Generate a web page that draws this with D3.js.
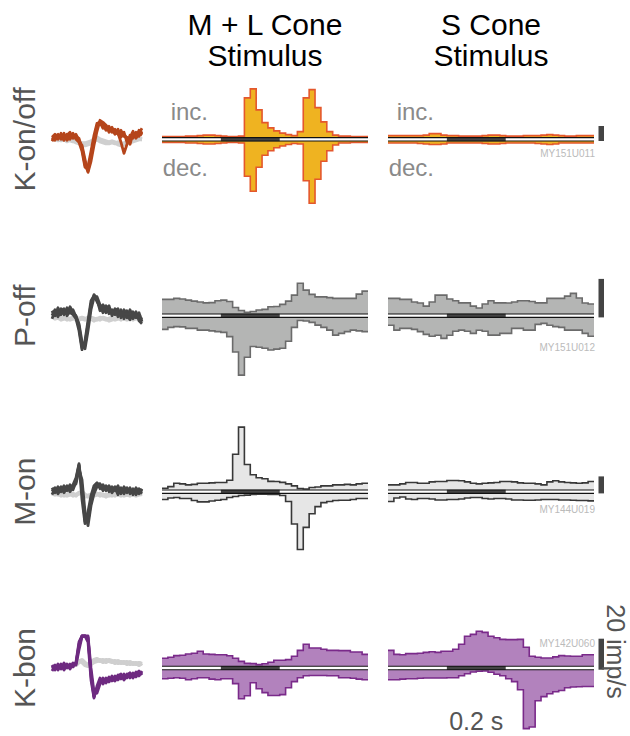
<!DOCTYPE html>
<html>
<head>
<meta charset="utf-8">
<script src="https://cdn.jsdelivr.net/npm/d3@7"></script>
<style>
  body { margin: 0; background: #fff; }
  text { font-family: "Liberation Sans", Arial, sans-serif; }
</style>
</head>
<body>
<div id="viz"></div>
<script>
// cell classes, recorded units, stimulus conditions
var cells = ["K-on/off", "P-off", "M-on", "K-bon"];
var units = ["MY151U011", "MY151U012", "MY144U019", "MY142U060"];
var stimuli = ["M + L Cone", "S Cone"];

// PSTH bins: 20 ms from -0.2 s to 0.5 s, stimulus on 0 - 0.2 s
var binStart = -0.2, binWidth = 0.02;
var stimOn = 0, stimOff = 0.2;

// firing rates (imp/s) for increments (inc.) and decrements (dec.)
var konoffMLInc = [1.3,1.3,1.3,1.3,2,2,2.7,3.3,3.3,2.7,2,1.3,1.3,2,53,65,37,20,13,9,6,4,2.7,8,53,64,40,21,8,3.3,2,2,1.3,1.3,1.3];
var konoffMLDec = [2,2,2,2,2.7,2.7,3.3,4,4,3.3,2.7,2,2,2.7,47,67,35,19,13,9,6.7,4.7,3.3,4,53,83,51,27,13,5.3,2.7,2.7,2,2,2];
var konoffSInc = [2.7,2.7,2.7,2.7,2.7,2.7,3.3,5.3,5.3,3.3,2.7,2.7,2,2,2,2,2.7,3.3,3.3,2.7,2,2,2,2.7,2.7,2.7,3.3,4,3.3,2.7,2,2,2.7,2.7,2.7];
var konoffSDec = [2.7,2.7,2.7,2.7,2.7,3.3,4,4.7,4.7,4,2.7,2.7,2.7,2.7,2.7,2.7,3.3,4,4,3.3,2.7,2.7,2.7,2.7,2.7,3.3,4,4.7,4,2.7,2.7,2.7,2.7,2.7,2.7];

var poffMLInc = [7.6,7.6,8.1,7.8,7.2,6.7,6.2,5.8,5.9,6.9,7.2,6.5,3.4,1.8,0.9,1.3,2.1,2.4,3.8,3.9,5,6.7,9.8,16,12.4,10.2,8.9,8.9,8.5,8.1,8.1,8.1,8.1,10.3,11.9];
var poffMLDec = [6.2,5.2,4.8,4.9,5.7,5.7,6.6,6.6,7,7.4,7.8,10,18,30,20.7,15.1,15.5,16,16.9,16.5,16,12.4,5.2,1.6,1.9,2.6,4,5.2,6.6,9.2,8.3,7.4,6.6,7,7.4];
var poffSInc = [8.1,8.1,7.6,7.6,6.2,5.7,4.1,6.2,9.8,9.8,7.8,6.9,5.8,5.8,4.1,3.1,5.2,6.9,5.8,5.8,5.7,6.2,6.9,6.9,6.5,5.8,5.8,8.1,8.1,8.1,9.3,10.7,8.3,5.7,5.2];
var poffSDec = [4.1,6.6,5.7,5.7,6.2,7.4,8.8,9.8,9.3,10.9,9.3,7.2,6.6,7.2,8.3,6.7,7.2,9.2,9.2,8.3,8.3,5.7,5.7,6.6,6.6,3.6,3.1,4.1,4.8,5.2,6.6,6.6,6.6,8.3,9.8];

var monMLInc = [2,4,8,7.2,6,6.6,8,8,8.4,8.8,8.8,11.4,42,74,30,18,14.4,13.2,10.2,10,9,7.2,4.8,1.8,1.2,3,3.6,4.8,4.8,6,6,6.6,6,7.2,8];
var monMLDec = [7.2,5.4,4.8,6,6,8.4,10,10,9,8,7.2,4.8,3.6,2.4,2,1.2,0.8,0.8,1.2,1.2,2.4,9.6,36,66,40,24,15.6,10.8,9.6,8.4,8,8,7.2,6,6];
var monSInc = [6,6,7.2,8.8,8.8,8,8,9.6,10,10,11.2,11.2,10.8,9.6,8,7.2,8,8.4,8.8,10,10,9.6,8.4,8,8,7.2,6,9.6,10.8,9.6,8.8,8.4,8,8.4,10];
var monSDec = [9.6,5.4,4.2,6.6,7.2,6,6,6.6,7.8,7.8,7.2,7.2,6.6,5.4,4.8,4.8,6,6.6,6,6,6.6,7.8,7.8,8,8,7.8,7.2,7.2,7.2,7.8,7.8,8,8.4,8.4,8.8];

var kbonMLInc = [5.2,5.8,6.9,7.1,7.9,8.4,9.7,7.9,7.7,7.5,7.5,6.8,5.2,3.2,1.9,1.7,1.1,1.6,2.6,3.9,3.9,4.3,6.5,10.3,14.2,11.8,11.8,11,10.3,10.3,10.1,10.1,9.2,9.2,7.7];
var kbonMLDec = [5.8,5.5,5.2,5.5,6.5,5.8,5.2,5.2,6.1,6.5,5.8,5.8,9,18.7,16.8,8.4,12.3,14.8,16.6,16.6,16.1,11.6,7.7,5.2,3.9,3.7,3.7,3.7,3.9,3.9,5.2,5.2,5.5,6.1,6.5];
var kbonSInc = [10.3,7.7,7.5,8.2,8.2,8.4,9,9.4,9,9.7,9.7,11,14.2,19.4,20.6,22.6,21.9,19.4,18.4,17.4,17.2,17.2,17.4,12.3,6.5,5.8,5.4,5.4,6.1,6.9,6.6,6.5,6.5,7.5,7.5];
var kbonSDec = [6.5,6.5,6.1,5.8,5.8,5.5,5.4,5.4,5.4,5.4,5.2,5.2,3.9,2.6,1.5,1,0.8,1.6,2.9,3.9,5.8,7.7,12.9,38,37,20,17.4,15.5,14.2,13.4,11.6,11.2,11,10.8,10.8];

// spike waveforms, 31 samples over 1.5 ms (arbitrary amplitude units)
var konoffSpikes = [
  [2,5,0,6,1,4,7,1,5,-1,-8,-24,-30,-18,-2,12,18,15,9,13,7,10,5,9,3,2,-5,6,2,9,5],
  [-2,3,5,0,6,-1,3,6,0,-3,-12,-28,-27,-12,4,16,17,11,14,7,11,5,10,2,7,-3,2,8,1,6,11],
  [1,-1,4,3,-1,5,0,5,2,-2,-6,-20,-33,-22,-6,8,19,17,14,9,12,6,6,-3,-14,-5,4,1,7,3,8],
  [0,3,2,4,3,1,4,3,3,1,-9,-26,-32,-16,0,14,16,13,11,11,9,8,7,6,5,1,-1,4,4,6,4]
];
var konoffGray = [
  [0,1,-1,0,1,-2,0,-1,-3,-4,-5,-6,-5,-4,-2,0,-2,-3,-4,-4,-3,-4,-3,-4,-5,-4,-3,-2,-1,0,0],
  [1,0,1,-1,0,0,-1,-2,-2,-3,-4,-4,-3,-2,0,2,0,-1,-2,-3,-2,-3,-5,-6,-4,-2,-2,-1,0,1,0]
];
var poffSpikes = [
  [0,6,2,7,1,8,3,1,-3,-15,-34,-25,-5,15,20,14,8,11,3,8,1,7,-1,6,-3,5,0,-3,4,-5,-8],
  [5,0,8,1,6,2,9,3,0,-10,-30,-30,-10,10,21,17,5,8,10,2,6,1,5,0,4,-2,6,-1,-2,3,-6],
  [-3,4,-1,5,7,0,4,6,-1,-8,-26,-33,-15,6,18,19,11,3,7,10,0,5,7,-2,6,1,-4,4,-1,-2,-3],
  [2,3,4,3,4,5,5,4,-2,-12,-32,-28,-8,12,19,16,9,7,6,6,4,4,3,3,2,2,1,0,1,-1,-4]
];
var poffGray = [
  [0,-2,-1,-3,-2,-4,-3,-2,-4,-3,-2,-3,-4,-2,-3,-4,-2,-3,-4,-3,-2,-4,-3,-2,-3,-4,-3,-2,-3,-2,-1],
  [-1,-3,-2,-4,-3,-2,-4,-3,-2,-4,-3,-4,-2,-3,-5,-3,-4,-2,-3,-5,-4,-3,-2,-4,-2,-3,-2,-4,-2,-3,-2]
];
var monSpikes = [
  [0,4,0,5,1,6,2,7,14,28,-8,-32,-20,-4,6,9,3,7,1,6,0,5,-1,4,0,4,-2,3,-1,3,0],
  [4,-1,5,0,6,1,7,2,10,26,2,-28,-30,-10,2,7,8,2,6,0,5,1,6,-2,5,-1,4,-3,4,-2,3],
  [-3,3,-2,3,-1,4,0,5,8,22,12,-20,-34,-14,-2,5,7,1,5,4,-1,4,-3,3,-2,3,-1,2,-3,1,-2],
  [1,1,2,2,3,3,4,4,12,27,5,-30,-26,-8,3,6,5,4,4,3,2,3,2,1,2,1,1,0,1,0,1]
];
var monGray = [
  [-1,-2,-3,-2,-4,-3,-2,-4,-3,-2,0,-3,-5,-4,-3,-2,-4,-3,-5,-3,-4,-2,-3,-4,-2,-3,-4,-2,-3,-2,-3],
  [-2,-3,-2,-4,-3,-4,-3,-2,-4,-1,-2,-5,-4,-3,-4,-3,-2,-4,-3,-4,-3,-4,-2,-3,-4,-3,-2,-3,-4,-3,-2]
];
var kbonSpikes = [
  [0,3,-2,4,-1,3,0,4,5,22,32,32,30,-5,-28,-22,-14,-12,-14,-9,-13,-8,-12,-7,-11,-6,-10,-5,-9,-4,-6],
  [3,-2,4,-1,5,0,4,1,6,26,32,32,26,-12,-30,-18,-10,-16,-10,-14,-8,-12,-7,-11,-6,-10,-5,-9,-4,-8,-3],
  [-3,2,-1,3,-2,4,-1,5,3,18,31,32,32,0,-24,-25,-16,-10,-15,-10,-11,-13,-8,-6,-12,-7,-5,-10,-6,-3,-7],
  [1,0,1,1,2,2,2,3,4,24,32,32,31,-8,-29,-20,-13,-13,-12,-12,-11,-10,-10,-9,-9,-8,-8,-7,-7,-6,-5]
];
var kbonGray = [
  [0,1,0,2,1,2,3,2,4,7,6,3,2,4,6,7,8,6,8,7,6,7,5,6,5,6,4,5,4,5,4],
  [1,0,1,1,2,1,2,4,3,6,8,5,3,5,8,9,7,8,6,8,7,5,7,5,6,4,6,4,5,3,5]
];

// ---- layout / style ----
var width = 630, height = 736;
var rowY = [139.3, 315.7, 491.7, 668];
var barPx = [15, 38.5, 17, 31];          // length of the 20 imp/s bar per row
var unitDy = [17.5, 35, 21.5, -21];
var panelX = [162, 388], panelW = 206, gap = 1.7;
var styles = [
  { fill: "#efb321", stroke: "#e4572c", wave: "#b5451b" },
  { fill: "#b4b5b4", stroke: "#6b6b6b", wave: "#474747" },
  { fill: "#e6e6e6", stroke: "#383838", wave: "#474747" },
  { fill: "#b282bd", stroke: "#7a2a8a", wave: "#6e2a80" }
];
var hists = [
  [[konoffMLInc, konoffMLDec], [konoffSInc, konoffSDec]],
  [[poffMLInc, poffMLDec], [poffSInc, poffSDec]],
  [[monMLInc, monMLDec], [monSInc, monSDec]],
  [[kbonMLInc, kbonMLDec], [kbonSInc, kbonSDec]]
];
var spikes = [konoffSpikes, poffSpikes, monSpikes, kbonSpikes];
var grays = [konoffGray, poffGray, monGray, kbonGray];

var svg = d3.select('#viz').append('svg')
  .attr('width', width)
  .attr('height', height);

svg.append('rect').attr('width', width).attr('height', height).attr('fill', '#fff');

var xT = d3.scaleLinear().domain([binStart, 0.5]).range([0, panelW]);

var xW = d3.scaleLinear().domain([0, 1.5]).range([52, 142]);
var yW = d3.scaleLinear().domain([-40, 40]).range([40, -40]);
var waveLine = d3.line()
  .x(function(d, i) { return xW(i * 0.05); })
  .y(function(d) { return yW(d); });

function binPoints(vals) {
  var p = vals.map(function(v, i) { return { t: binStart + i * binWidth, v: v }; });
  p.push({ t: binStart + vals.length * binWidth, v: vals[vals.length - 1] });
  return p;
}

// titles
stimuli.forEach(function(s, j) {
  var t = svg.append('text')
    .attr('x', panelX[j] + panelW / 2)
    .attr('y', 35)
    .attr('text-anchor', 'middle')
    .style('font-size', '30px')
    .attr('fill', '#000');
  t.append('tspan').attr('x', panelX[j] + panelW / 2).text(s);
  t.append('tspan').attr('x', panelX[j] + panelW / 2).attr('dy', 31).text('Stimulus');
});

cells.forEach(function(cell, r) {
  var st = styles[r];
  var row = svg.append('g').attr('transform', 'translate(0,' + rowY[r] + ')');

  // row label
  row.append('text')
    .attr('transform', 'translate(35,0) rotate(-90)')
    .attr('text-anchor', 'middle')
    .style('font-size', '30px')
    .attr('fill', '#555')
    .text(cell);

  // spike waveforms
  grays[r].forEach(function(tr) {
    row.append('path').attr('d', waveLine(tr))
      .attr('fill', 'none').attr('stroke', '#cfcfcf')
      .attr('stroke-width', 4).attr('stroke-linejoin', 'round');
  });
  spikes[r].forEach(function(tr) {
    row.append('path').attr('d', waveLine(tr))
      .attr('fill', 'none').attr('stroke', st.wave)
      .attr('stroke-width', 2.8).attr('stroke-linejoin', 'round');
  });

  var yR = d3.scaleLinear().domain([0, 20]).range([0, barPx[r]]);

  hists[r].forEach(function(pair, j) {
    var g = row.append('g').attr('transform', 'translate(' + panelX[j] + ',0)');
    var incP = binPoints(pair[0]), decP = binPoints(pair[1]);

    var upArea = d3.area().curve(d3.curveStepAfter)
      .x(function(d) { return xT(d.t); })
      .y0(-gap).y1(function(d) { return -gap - yR(d.v); });
    var downArea = d3.area().curve(d3.curveStepAfter)
      .x(function(d) { return xT(d.t); })
      .y0(gap).y1(function(d) { return gap + yR(d.v); });

    g.append('path').attr('d', upArea(incP)).attr('fill', st.fill);
    g.append('path').attr('d', downArea(decP)).attr('fill', st.fill);
    g.append('path').attr('d', upArea.lineY1()(incP))
      .attr('fill', 'none').attr('stroke', st.stroke).attr('stroke-width', 1.6);
    g.append('path').attr('d', downArea.lineY1()(decP))
      .attr('fill', 'none').attr('stroke', st.stroke).attr('stroke-width', 1.6);

    // baseline pair and stimulus bar
    g.append('rect').attr('x', 0).attr('y', -gap).attr('width', panelW).attr('height', 2 * gap).attr('fill', '#fff');
    g.append('rect')
      .attr('x', xT(stimOn)).attr('y', -gap - 0.3)
      .attr('width', xT(stimOff) - xT(stimOn)).attr('height', 2 * gap + 0.6)
      .attr('fill', '#444');
    [-gap, gap].forEach(function(yy) {
      g.append('line').attr('x1', 0).attr('x2', panelW).attr('y1', yy).attr('y2', yy)
        .attr('stroke', '#111').attr('stroke-width', 1.1);
    });

    if (r === 0) {
      g.append('text').attr('x', 46).attr('y', 120 - rowY[0])
        .attr('text-anchor', 'end').style('font-size', '24px').attr('fill', '#8a8a8a').text('inc.');
      g.append('text').attr('x', 46).attr('y', 176.5 - rowY[0])
        .attr('text-anchor', 'end').style('font-size', '24px').attr('fill', '#8a8a8a').text('dec.');
    }
  });

  // 20 imp/s scale bar
  row.append('rect')
    .attr('x', 598.5).attr('width', 5.5)
    .attr('y', gap - yR(20)).attr('height', yR(20))
    .attr('fill', '#444');

  // unit id
  row.append('text')
    .attr('x', 595).attr('y', unitDy[r])
    .attr('text-anchor', 'end')
    .style('font-size', '10px')
    .attr('fill', '#bbb')
    .text(units[r]);
});

// scale labels
svg.append('text')
  .attr('transform', 'translate(607,651.5) rotate(90)')
  .attr('text-anchor', 'middle')
  .style('font-size', '25px')
  .attr('fill', '#555')
  .text('20 imp/s');

svg.append('text')
  .attr('x', panelX[1] + xT((stimOn + stimOff) / 2))
  .attr('y', 730)
  .attr('text-anchor', 'middle')
  .style('font-size', '25px')
  .attr('fill', '#555')
  .text('0.2 s');
</script>
</body>
</html>
